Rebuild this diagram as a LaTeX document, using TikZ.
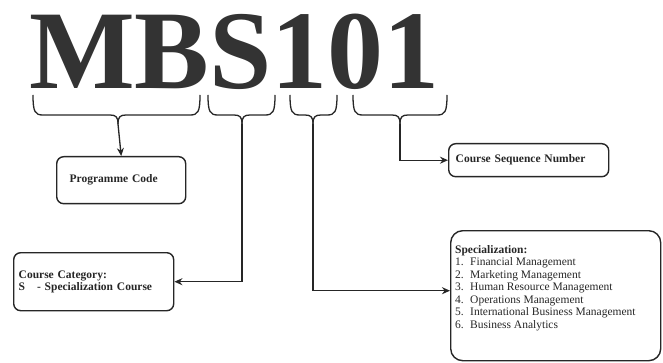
\documentclass[tikz,border=0pt]{standalone}
\usepackage{fontspec}
\setmainfont{Liberation Serif}
\usetikzlibrary{arrows.meta}
\newcommand{\bracepath}[3]{%
  \draw[bracestyle] (#1,95) .. controls (#1,112) and (#1+2,115) .. (#1+10,115) -- (#3-8,115) .. controls (#3-2,115) and (#3,117) .. (#3,124);
  \draw[bracestyle] (#2,95) .. controls (#2,112) and (#2-2,115) .. (#2-10,115) -- (#3+8,115) .. controls (#3+2,115) and (#3,117) .. (#3,124);
}
\begin{document}
\begin{tikzpicture}[x=1pt,y=-1pt,
  bracestyle/.style={line width=1.3pt, draw=black!85},
  arr/.style={line width=1.3pt, draw=black!85, -{Stealth[length=8pt,width=7pt]}},
  box/.style={draw=black!85, line width=1.4pt, rounded corners=7pt, align=left, font=\fontsize{11.5}{12}\selectfont\bfseries, text=black!85},
  item/.style={font=\fontsize{11.5}{12.5}\selectfont, text=black!85, align=left, inner sep=0pt}]
\useasboundingbox (0,0) rectangle (663,363);
% title
\node[anchor=base west, inner sep=0pt, font=\fontsize{112}{112}\selectfont\bfseries, text=black!80] (title) at (29,89) {MBS101};
% braces
\bracepath{33}{200}{118}
\bracepath{208}{275}{242}
\bracepath{290}{337}{313}
\bracepath{353}{447}{400}
\coordinate (t1) at (118,124);
\coordinate (t2) at (242,124);
\coordinate (t3) at (313,124);
\coordinate (t4) at (400,124);
% boxes
\node[box, anchor=north west, minimum width=129pt, minimum height=47pt, text width=103pt, inner xsep=13pt] (prog) at (56,156) {Programme Code};
\node[box, anchor=north west, minimum width=160pt, minimum height=33pt, text width=146pt, inner xsep=7pt] (seq) at (448,143) {Course Sequence Number};
\node[box, anchor=north west, minimum width=160pt, minimum height=58pt, text width=150pt, inner xsep=5pt] (cat) at (13,252) {Course Category:\\S\hspace{12pt}- Specialization Course};
\node[box, anchor=north west, minimum width=210pt, minimum height=130pt, rounded corners=12pt] (spec) at (450,230) {};
\node[item, anchor=north west] (spectext) at (455,245) {\textbf{Specialization:}\\
\makebox[15pt][l]{1.}Financial Management\\
\makebox[15pt][l]{2.}Marketing Management\\
\makebox[15pt][l]{3.}Human Resource Management\\
\makebox[15pt][l]{4.}Operations Management\\
\makebox[15pt][l]{5.}International Business Management\\
\makebox[15pt][l]{6.}Business Analytics};
% connectors
\draw[arr] (t1) -- (prog.north);
\draw[arr] (t2) |- (cat.east);
\draw[arr] (t3) |- ([yshift=5pt]spec.west);
\draw[arr] (t4) |- (seq.west);
\end{tikzpicture}
\end{document}
